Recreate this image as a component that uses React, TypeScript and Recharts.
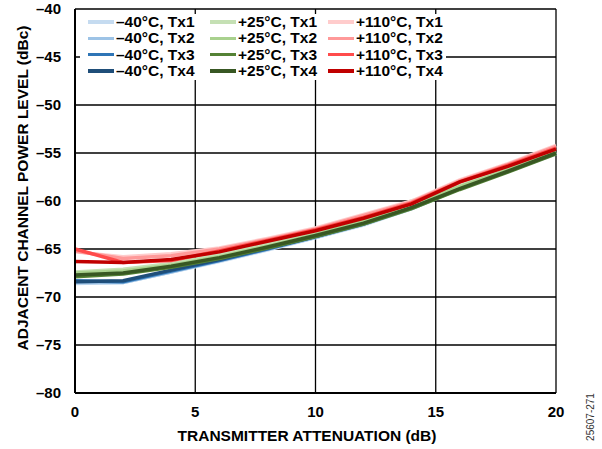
import React from 'react';
import { LineChart, Line, XAxis, YAxis, CartesianGrid, Legend, Label } from 'recharts';

const attenuation = [0, 2, 4, 6, 8, 10, 12, 14, 16, 18, 20];

const m40Tx1 = [-68.6, -68.5, -67.4, -66.3, -65.1, -63.8, -62.5, -60.8, -58.7, -56.9, -55.1];
const m40Tx2 = [-68.5, -68.5, -67.4, -66.2, -65.0, -63.8, -62.4, -60.8, -58.7, -56.9, -55.0];
const m40Tx3 = [-68.3, -68.4, -67.3, -66.2, -65.0, -63.7, -62.4, -60.7, -58.6, -56.8, -55.0];
const m40Tx4 = [-68.4, -68.3, -67.2, -66.1, -64.9, -63.7, -62.3, -60.7, -58.6, -56.8, -54.9];
const p25Tx1 = [-67.4, -67.1, -66.5, -65.6, -64.5, -63.3, -61.9, -60.0, -58.4, -56.7, -54.9];
const p25Tx2 = [-67.5, -67.3, -66.7, -65.8, -64.7, -63.5, -62.1, -60.3, -58.5, -56.8, -54.9];
const p25Tx3 = [-67.9, -67.6, -66.9, -66.0, -64.9, -63.7, -62.4, -60.8, -58.8, -57.0, -55.1];
const p25Tx4 = [-67.7, -67.5, -66.8, -65.9, -64.8, -63.6, -62.3, -60.7, -58.7, -56.9, -55.0];
const p110Tx1 = [-65.3, -65.8, -65.5, -64.9, -63.9, -62.8, -61.4, -60.0, -57.8, -56.1, -54.2];
const p110Tx2 = [-65.2, -66.0, -65.7, -65.0, -64.0, -62.9, -61.5, -60.1, -57.9, -56.2, -54.3];
const p110Tx3 = [-65.0, -66.4, -66.2, -65.2, -64.1, -63.0, -61.7, -60.2, -58.0, -56.3, -54.5];
const p110Tx4 = [-66.3, -66.4, -66.1, -65.3, -64.2, -63.1, -61.8, -60.3, -58.0, -56.4, -54.6];

const seriesNames = [
  '–40°C, Tx1', '–40°C, Tx2', '–40°C, Tx3', '–40°C, Tx4',
  '+25°C, Tx1', '+25°C, Tx2', '+25°C, Tx3', '+25°C, Tx4',
  '+110°C, Tx1', '+110°C, Tx2', '+110°C, Tx3', '+110°C, Tx4',
];
const seriesValues = [m40Tx1, m40Tx2, m40Tx3, m40Tx4, p25Tx1, p25Tx2, p25Tx3, p25Tx4, p110Tx1, p110Tx2, p110Tx3, p110Tx4];
const seriesColors = [
  '#c5dbf0', '#9dc3e6', '#2e75b6', '#1f4e79',
  '#c5e0b4', '#a9d18e', '#548235', '#385723',
  '#ffcccc', '#ff9999', '#ff4b4b', '#c00000',
];

const xTicks = [0, 5, 10, 15, 20];
const yTicks = [-80, -75, -70, -65, -60, -55, -50, -45, -40];

const data = attenuation.map((x, i) => {
  const row: Record<string, number> = { x };
  seriesValues.forEach((s, k) => { row['s' + k] = s[i]; });
  return row;
});

const FONT = '"Liberation Sans", Arial, sans-serif';
const fmt = (v: number) => (v < 0 ? '–' + Math.abs(v) : String(v));

const LegendBox = () => {
  const colLeft = [8, 130, 248];
  return (
    <div style={{ position: 'relative', width: 366, height: 66, background: '#fff' }}>
      {[0, 1, 2].map((c) =>
        [0, 1, 2, 3].map((r) => {
          const k = c * 4 + r;
          return (
            <div
              key={k}
              style={{
                position: 'absolute',
                left: colLeft[c],
                top: r * 16.3,
                height: 16,
                display: 'flex',
                alignItems: 'center',
                whiteSpace: 'nowrap',
                fontFamily: FONT,
                fontWeight: 'bold',
                fontSize: 15.5,
                color: '#000',
              }}
            >
              <span style={{ display: 'inline-block', width: 26, height: 3.5, background: seriesColors[k], marginRight: 2 }} />
              <span>{seriesNames[k]}</span>
            </div>
          );
        })
      )}
    </div>
  );
};

export default function App() {
  return (
    <div style={{ position: 'absolute', left: 0, top: 0, width: 602, height: 449, background: '#fff' }}>
      <LineChart width={602} height={449} data={data} margin={{ top: 9, right: 46, bottom: 0, left: 0 }}>
        <CartesianGrid stroke="#000" strokeWidth={1.3} />
        <XAxis
          dataKey="x"
          type="number"
          domain={[0, 20]}
          ticks={xTicks}
          tickLine={false}
          axisLine={{ stroke: '#000', strokeWidth: 2 }}
          tick={{ fill: '#000', fontFamily: FONT, fontWeight: 'bold', fontSize: 15 }}
          tickMargin={7}
          height={56}
        >
          <Label
            content={() => (
              <text x={307} y={441} textAnchor="middle" fontFamily={FONT} fontWeight="bold" fontSize={15.5} fill="#000">
                TRANSMITTER ATTENUATION (dB)
              </text>
            )}
          />
        </XAxis>
        <YAxis
          type="number"
          domain={[-80, -40]}
          ticks={yTicks}
          tickFormatter={fmt}
          tickLine={false}
          axisLine={{ stroke: '#000', strokeWidth: 2 }}
          tick={{ fill: '#000', fontFamily: FONT, fontWeight: 'bold', fontSize: 15 }}
          tickMargin={8}
          width={75}
        >
          <Label
            content={() => (
              <text
                x={22}
                y={188}
                transform="rotate(-90 22 188)"
                textAnchor="middle"
                dominantBaseline="central"
                fontFamily={FONT}
                fontWeight="bold"
                fontSize={15.5}
                fill="#000"
              >
                ADJACENT CHANNEL POWER LEVEL (dBc)
              </text>
            )}
          />
        </YAxis>
        <Legend
          layout="horizontal"
          verticalAlign="middle"
          align="center"
          content={() => <LegendBox />}
          wrapperStyle={{ position: 'absolute', top: 14, left: 80, width: 366, height: 66 }}
        />
        {seriesValues.map((_, k) => (
          <Line
            key={k}
            type="linear"
            dataKey={'s' + k}
            name={seriesNames[k]}
            stroke={seriesColors[k]}
            strokeWidth={3.5}
            dot={false}
            activeDot={false}
            isAnimationActive={false}
          />
        ))}
      </LineChart>
      <div
        style={{
          position: 'absolute',
          left: 590,
          top: 417,
          transform: 'translate(-50%, -50%) rotate(-90deg)',
          fontFamily: FONT,
          fontSize: 10,
          color: '#333',
          whiteSpace: 'nowrap',
        }}
      >
        25607-271
      </div>
    </div>
  );
}
